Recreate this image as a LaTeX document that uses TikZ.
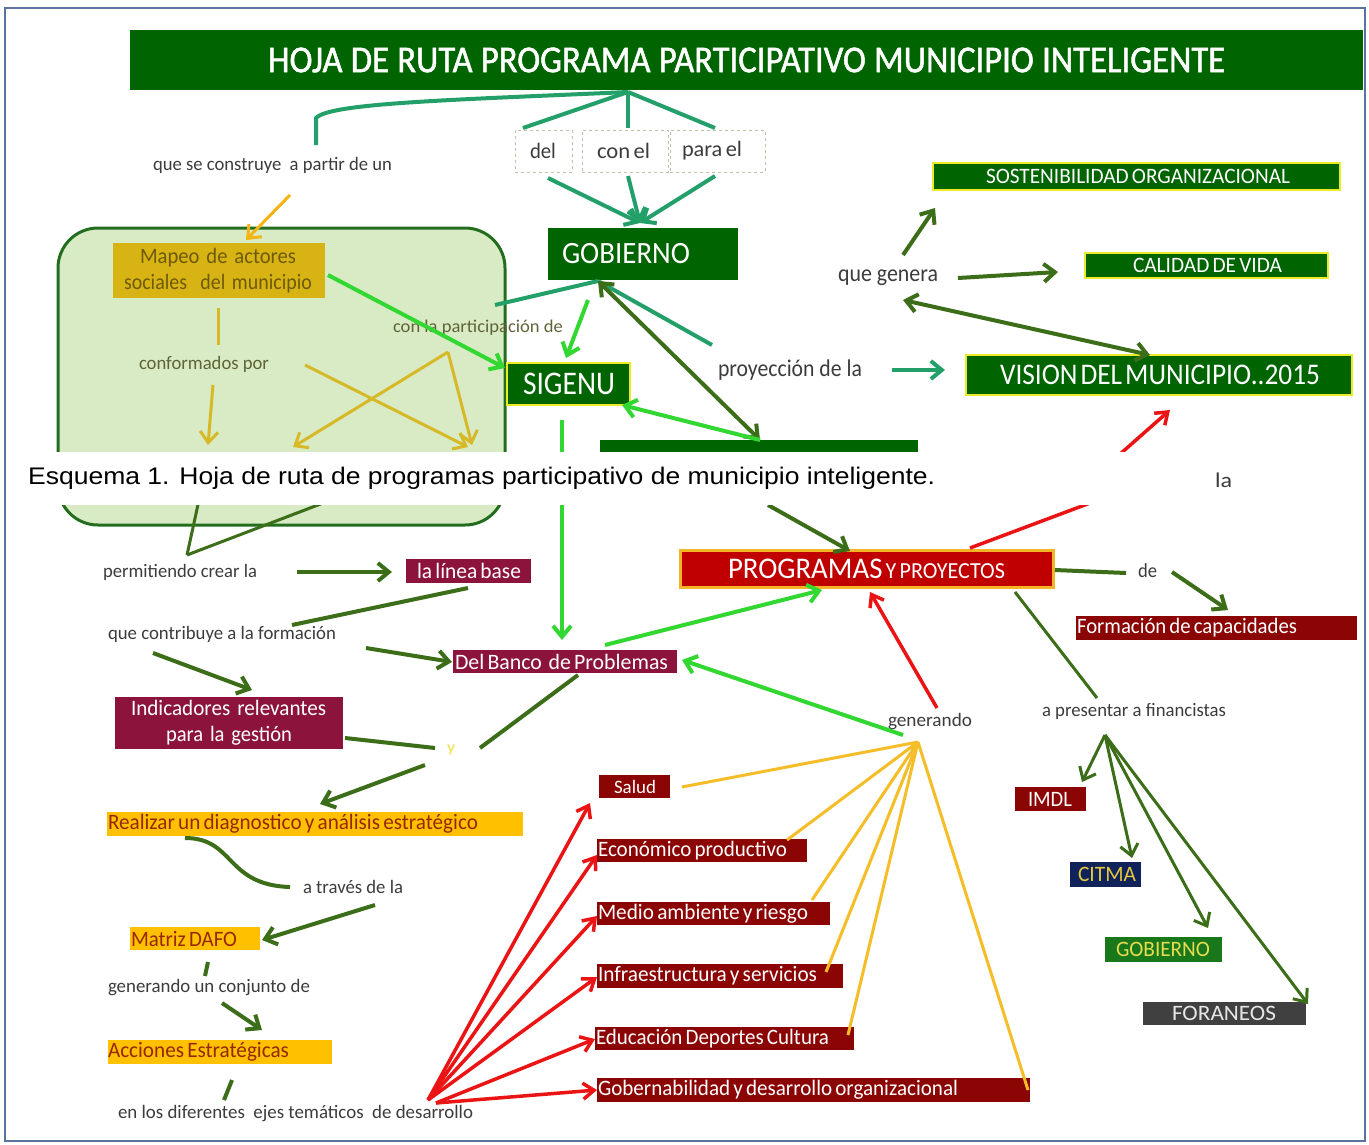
\documentclass[tikz,border=0pt]{standalone}
\usepackage{fontspec}
\setmainfont{Carlito}
\newfontfamily\arialf{Liberation Sans}
\newfontfamily\titlef[FakeBold=1.4]{Carlito}
\usetikzlibrary{arrows.meta,calc}
\newcommand{\fw}[3]{\resizebox{#1pt}{\height}{\fontsize{#2pt}{#2pt}\selectfont #3}}
\newcommand{\tsp}{\hspace{0.24em}}
\definecolor{dkgreen}{RGB}{0,100,0}
\definecolor{tealc}{RGB}{35,160,105}
\definecolor{lgreen}{RGB}{50,215,50}
\definecolor{olivec}{RGB}{60,110,25}
\definecolor{goldarr}{RGB}{245,180,20}
\definecolor{mapeofill}{RGB}{215,180,20}
\definecolor{mapeotext}{RGB}{110,90,10}
\definecolor{xline}{RGB}{215,185,40}
\definecolor{fanyel}{RGB}{245,190,40}
\definecolor{boxgold}{RGB}{255,192,0}
\definecolor{goldtext}{RGB}{150,40,0}
\definecolor{maroonc}{RGB}{140,20,60}
\definecolor{dkred}{RGB}{140,5,5}
\definecolor{progred}{RGB}{192,0,0}
\definecolor{orangebd}{RGB}{245,180,40}
\definecolor{redarr}{RGB}{235,20,20}
\definecolor{navyc}{RGB}{15,35,90}
\definecolor{citmatext}{RGB}{230,200,60}
\definecolor{gobtwo}{RGB}{25,120,25}
\definecolor{gobtwotext}{RGB}{230,220,80}
\definecolor{foran}{RGB}{64,64,64}
\definecolor{forantext}{RGB}{230,230,230}
\definecolor{grpfill}{RGB}{216,235,196}
\definecolor{grpbd}{RGB}{35,110,30}
\definecolor{txtgray}{RGB}{60,60,60}
\definecolor{olivegray}{RGB}{95,100,55}
\definecolor{dashcol}{RGB}{185,195,165}
\definecolor{framecol}{RGB}{90,115,160}
\definecolor{ybord}{RGB}{235,235,40}
\definecolor{ytext}{RGB}{240,225,60}
\begin{document}
\begin{tikzpicture}[x=1pt,y=-1pt,
  bx/.style={anchor=north west, inner xsep=0pt, inner ysep=0pt, outer sep=0pt, align=left},
  gbox/.style={bx, fill=dkgreen, text=white},
  ybd/.style={draw=ybord, line width=2pt},
  mbox/.style={bx, fill=maroonc, text=white},
  rbox/.style={bx, fill=dkred, text=white},
  obox/.style={bx, fill=boxgold, text=goldtext},
  dbox/.style={bx, draw=dashcol, dashed, line width=1pt, fill=white, text=txtgray},
  lbl/.style={anchor=west, inner sep=0pt, outer sep=0pt, text=txtgray},
  con/.style={line width=4pt},
  thin/.style={line width=3pt},
  rthin/.style={line width=3.5pt},
  tip/.style={-{Straight Barb[length=11pt,width=18pt]}},
  rtip/.style={-{Straight Barb[length=11pt,width=16pt]}},
  dtip/.style={{Straight Barb[length=11pt,width=18pt]}-{Straight Barb[length=11pt,width=18pt]}}
]
\useasboundingbox (0,0) rectangle (1369,1144);
\fill[white] (0,0) rectangle (1369,1144);
\draw[framecol, line width=2.5pt] (5,8) rectangle (1365,1141);

% group box
\node[bx, draw=grpbd, fill=grpfill, line width=3pt, rounded corners=40pt, minimum width=447pt, minimum height=297pt] (grp) at (58,228) {};

% title
\node[gbox, text width=1233pt, minimum height=60pt] (title) at (130,30) {\hspace*{138pt}\fw{957}{38}{\titlef HOJA\tsp DE\tsp RUTA\tsp PROGRAMA\tsp PARTICIPATIVO\tsp MUNICIPIO\tsp INTELIGENTE}};

% dashed word boxes
\node[dbox, text width=57pt, minimum height=42pt] (del) at (515,130) {\hspace*{15pt}\fw{26}{22}{del}};
\node[dbox, text width=86pt, minimum height=42pt] (conel) at (582,130) {\hspace*{15pt}\fw{53}{22}{con el}};
\node[dbox, text width=95pt, minimum height=42pt] (parael) at (670,130) {\hspace*{12pt}\fw{60}{22}{para el}};

% green boxes
\node[gbox, text width=190pt, minimum height=52pt] (gob) at (548,228) {\hspace*{14pt}\fw{128}{31}{GOBIERNO}};
\node[gbox, ybd, text width=123pt, minimum height=42pt] (sigenu) at (507,363) {\hspace*{16pt}\fw{92}{33}{SIGENU}};
\node[gbox, ybd, text width=407pt, minimum height=27pt] (sost) at (933,163) {\hspace*{53pt}\fw{304}{22}{SOSTENIBILIDAD ORGANIZACIONAL}};
\node[gbox, ybd, text width=243pt, minimum height=25pt] (calidad) at (1085,253) {\hspace*{48pt}\fw{149}{22}{CALIDAD DE VIDA}};
\node[gbox, ybd, text width=386pt, minimum height=40pt] (vision) at (966,355) {\hspace*{34pt}\fw{320}{30}{VISION DEL MUNICIPIO..2015}};
\node[gbox, text width=318pt, minimum height=25pt] (hidden) at (600,440) {};

% programas
\node[bx, fill=progred, draw=orangebd, line width=3pt, text=white, text width=373pt, minimum height=37pt] (prog) at (680,550) {\hspace*{48pt}\fw{277}{30}{PROGRAMAS{\fontsize{23pt}{23pt}\selectfont\ Y PROYECTOS}}};
\node[rbox, text width=281pt, minimum height=24pt] (formacion) at (1076,616) {\hspace*{1pt}\fw{220}{22}{Formación de capacidades}};
\node[rbox, text width=71pt, minimum height=24pt] (imdl) at (1015,787) {\hspace*{13pt}\fw{44}{22}{IMDL}};
\node[bx, fill=navyc, text=citmatext, text width=71pt, minimum height=25pt] (citma) at (1070,862) {\hspace*{8pt}\fw{58}{22}{CITMA}};
\node[bx, fill=gobtwo, text=gobtwotext, text width=117pt, minimum height=25pt] (gobt) at (1105,937) {\hspace*{11pt}\fw{94}{22}{GOBIERNO}};
\node[bx, fill=foran, text=forantext, text width=163pt, minimum height=23pt] (foraneos) at (1143,1002) {\hspace*{29pt}\fw{104}{22}{FORANEOS}};

% left column boxes
\node[bx, fill=mapeofill, text=mapeotext, text width=212pt, minimum height=55pt, font=\fontsize{22pt}{26pt}\selectfont] (mapeo) at (113,243) {\hspace*{27pt}\fw{156}{22}{Mapeo de actores}\\\hspace*{11pt}\fw{188}{22}{sociales~ del municipio}};
\node[mbox, text width=125pt, minimum height=24pt] (linea) at (406,559) {\hspace*{11pt}\fw{104}{22}{la línea base}};
\node[mbox, text width=224pt, minimum height=23pt] (banco) at (453,650) {\hspace*{2pt}\fw{213}{22}{Del Banco~ de Problemas}};
\node[mbox, text width=228pt, minimum height=52pt, font=\fontsize{22pt}{26pt}\selectfont] (indic) at (115,697) {\hspace*{16pt}\fw{195}{22}{Indicadores relevantes}\\\hspace*{51pt}\fw{126}{22}{para la gestión}};
\node[obox, text width=416pt, minimum height=24pt] (realizar) at (107,812) {\hspace*{1pt}\fw{370}{22}{Realizar un diagnostico y análisis estratégico}};
\node[obox, text width=130pt, minimum height=23pt] (matriz) at (130,927) {\hspace*{1pt}\fw{106}{22}{Matriz DAFO}};
\node[obox, text width=224pt, minimum height=24pt] (acciones) at (108,1040) {\fw{181}{22}{Acciones Estratégicas}};

% theme boxes
\node[rbox, text width=71pt, minimum height=23pt] (salud) at (599,775) {\hspace*{15pt}\fw{42}{19}{Salud}};
\node[rbox, text width=210pt, minimum height=23pt] (econ) at (597,839) {\hspace*{1pt}\fw{189}{22}{Económico productivo}};
\node[rbox, text width=233pt, minimum height=23pt] (medio) at (597,902) {\hspace*{1pt}\fw{210}{22}{Medio ambiente y riesgo}};
\node[rbox, text width=246pt, minimum height=24pt] (infra) at (597,964) {\hspace*{1pt}\fw{219}{22}{Infraestructura y servicios}};
\node[rbox, text width=259pt, minimum height=23pt] (educ) at (595,1027) {\hspace*{1pt}\fw{233}{22}{Educación Deportes Cultura}};
\node[rbox, text width=433pt, minimum height=24pt] (gober) at (597,1078) {\hspace*{1pt}\fw{360}{22}{Gobernabilidad y desarrollo organizacional}};

% labels
\node[lbl] (qsc) at (153,165) {\fw{239}{19}{que se construye~ a partir de un}};
\node[lbl, text=olivegray] (conf) at (139,364) {\fw{130}{19}{conformados por}};
\node[lbl, text=olivegray] (conpart) at (393,328) {\fw{170}{18}{con la participación de}};
\node[lbl] (proy) at (718,370) {\fw{144}{24}{proyección de la}};
\node[lbl] (qgen) at (838,278) {\fw{100}{24}{que genera}};
\node[lbl] (la) at (1215,480) {\fw{17}{21}{la}};
\node[lbl] (de) at (1138,571) {\fw{19}{20}{de}};
\node[lbl] (apres) at (1042,711) {\fw{184}{19}{a presentar a financistas}};
\node[lbl] (gener) at (888,722) {\fw{84}{19}{generando}};
\node[lbl] (perm) at (103,572) {\fw{154}{19}{permitiendo crear la}};
\node[lbl] (qcont) at (108,634) {\fw{228}{19}{que contribuye a la formación}};
\node[lbl, text=ytext] (yy) at (447,750) {\fw{8}{16}{y}};
\node[lbl] (atrav) at (303,887) {\fw{100}{19}{a través de la}};
\node[lbl] (genconj) at (108,988) {\fw{202}{19}{generando un conjunto de}};
\node[lbl] (enlos) at (118,1114) {\fw{355}{19}{en los diferentes~ ejes temáticos~ de desarrollo}};

% coordinates
\coordinate (apex) at ($(title.south west)+(498,2)$);
\coordinate (qend) at ($(qsc.west)+(163,-20)$);
\coordinate (gobin) at ($(gob.north west)+(92,-5)$);
\coordinate (gobout) at ($(gob.south west)+(50,1)$);
\coordinate (hidtop) at ($(hidden.north west)+(160,0)$);
\coordinate (genfan) at ($(gener.west)+(30,20)$);
\coordinate (redfan) at ($(enlos.west)+(310,-14)$);
\coordinate (finfan) at ($(apres.west)+(63,24)$);
\coordinate (xapex) at ($(grp.north west)+(390,124)$);
\coordinate (permapex) at ($(perm.west)+(84,-17)$);

% title connectors
\draw[tealc, con] (apex) .. controls (450,100) and (330,103) .. (316,118) -- (qend);
\draw[tealc, con] (apex) -- ($(del.north west)+(8,-2)$);
\draw[tealc, con] (apex) -- ($(conel.north west)+(46,-2)$);
\draw[tealc, con] (apex) -- ($(parael.north west)+(45,-2)$);
\draw[tealc, con, tip] ($(del.south west)+(33,6)$) -- (gobin);
\draw[tealc, con, tip] ($(conel.south west)+(46,4)$) -- (gobin);
\draw[tealc, con, tip] ($(parael.south west)+(45,4)$) -- (gobin);

% gold arrow to mapeo
\draw[goldarr, thin, tip] ($(qsc.west)+(137,30)$) -- ($(mapeo.north west)+(133,-3)$);

% inside group
\draw[xline, thin] ($(mapeo.north west)+(105,65)$) -- ($(conf.west)+(79,-19)$);
\draw[xline, thin, tip] ($(conf.west)+(74,21)$) -- ($(grp.north west)+(150,217)$);
\draw[xline, thin, tip] ($(conf.west)+(166,1)$) -- ($(grp.north west)+(410,219)$);
\draw[xline, thin, tip] (xapex) -- ($(grp.north west)+(235,219)$);
\draw[xline, thin, tip] (xapex) -- ($(grp.north west)+(414,217)$);

% gobierno connectors
\draw[tealc, con] (gobout) -- ($(conpart.west)+(102,-23)$);
\draw[tealc, con] (gobout) -- ($(proy.west)+(-6,-25)$);
\draw[lgreen, con, tip] ($(gob.north west)+(40,72)$) -- ($(sigenu.north west)+(59,-5)$);
\draw[olivec, con, dtip] (gobout) -- (hidtop);
\draw[lgreen, con, tip] ($(mapeo.north west)+(215,32)$) -- ($(sigenu.north west)+(-2,5)$);
\draw[lgreen, con, tip] ($(sigenu.north west)+(55,57)$) -- ($(banco.north west)+(109,-10)$);
\draw[lgreen, con, tip] (hidtop) -- ($(sigenu.north west)+(115,42)$);
\draw[olivec, con, tip] ($(hidden.north west)+(168,65)$) -- ($(prog.north west)+(170,1)$);
\draw[redarr, rthin] ($(prog.north west)+(290,-2)$) -- ($(la.west)+(-85,8)$);
\draw[redarr, rthin, rtip] ($(la.west)+(-113,-10)$) -- ($(vision.north west)+(204,55)$);

% que genera / proyeccion
\draw[olivec, con, tip] ($(qgen.west)+(65,-23)$) -- ($(sost.north west)+(2,45)$);
\draw[olivec, con, tip] ($(qgen.west)+(120,0)$) -- ($(calidad.north west)+(-27,19)$);
\draw[olivec, con, dtip] ($(qgen.west)+(65,22)$) -- ($(vision.north west)+(184,0)$);
\draw[tealc, con, tip] ($(proy.west)+(174,0)$) -- ($(vision.north west)+(-21,15)$);

% programas right side
\draw[olivec, con] ($(prog.north west)+(375,20)$) -- ($(de.west)+(-12,2)$);
\draw[olivec, con, tip] ($(de.west)+(34,1)$) -- ($(formacion.north west)+(152,-6)$);
\draw[olivec, thin] ($(prog.north west)+(335,42)$) -- ($(apres.west)+(55,-13)$);
\draw[olivec, thin, tip] (finfan) -- ($(imdl.north west)+(67,-5)$);
\draw[olivec, thin, tip] (finfan) -- ($(citma.north west)+(62,-4)$);
\draw[olivec, thin, tip] (finfan) -- ($(gobt.north west)+(103,-9)$);
\draw[olivec, thin, tip] (finfan) -- ($(foraneos.north west)+(165,2)$);

% banco / generando
\draw[lgreen, con, tip] ($(banco.north west)+(152,-5)$) -- ($(prog.north west)+(142,40)$);
\draw[redarr, rthin, rtip] ($(gener.west)+(49,-14)$) -- ($(prog.north west)+(190,42)$);
\draw[lgreen, con, tip] ($(gener.west)+(15,13)$) -- ($(banco.north west)+(229,10)$);
\draw[fanyel, thin] (genfan) -- ($(salud.north west)+(83,12)$);
\draw[fanyel, thin] (genfan) -- ($(econ.north west)+(190,1)$);
\draw[fanyel, thin] (genfan) -- ($(medio.north west)+(215,-2)$);
\draw[fanyel, thin] (genfan) -- ($(infra.north west)+(229,8)$);
\draw[fanyel, thin] (genfan) -- ($(educ.north west)+(253,8)$);
\draw[fanyel, thin] (genfan) -- ($(gober.north west)+(431,12)$);

% left column flow
\draw[olivec, thin] (permapex) -- ($(grp.north west)+(141,272)$);
\draw[olivec, thin] (permapex) -- ($(grp.north west)+(273,272)$);
\draw[olivec, con, tip] ($(perm.west)+(194,0)$) -- ($(linea.north west)+(-14,13)$);
\draw[olivec, con] ($(linea.north west)+(62,29)$) -- ($(qcont.west)+(184,-9)$);
\draw[olivec, con, tip] ($(qcont.west)+(258,14)$) -- ($(banco.north west)+(-1,12)$);
\draw[olivec, con, tip] ($(qcont.west)+(45,19)$) -- ($(indic.north west)+(137,-7)$);
\draw[olivec, con] ($(indic.north west)+(230,41)$) -- ($(yy.west)+(-12,-2)$);
\draw[olivec, con] ($(yy.west)+(33,-2)$) -- ($(banco.north west)+(125,25)$);
\draw[olivec, con, tip] ($(yy.west)+(-22,15)$) -- ($(realizar.north west)+(213,-8)$);
\draw[olivec, con] ($(realizar.north west)+(78,26)$) .. controls (235,838) and (225,885) .. ($(atrav.west)+(-13,0)$);
\draw[olivec, con, tip] ($(atrav.west)+(72,18)$) -- ($(matriz.north west)+(132,13)$);
\draw[olivec, con] ($(matriz.north west)+(78,35)$) -- ($(genconj.west)+(97,-12)$);
\draw[olivec, con, tip] ($(genconj.west)+(114,15)$) -- ($(acciones.north west)+(154,-10)$);
\draw[olivec, con] ($(acciones.north west)+(124,40)$) -- ($(enlos.west)+(106,-14)$);

% red fan
\draw[redarr, rthin, rtip] (redfan) -- ($(salud.north west)+(-9,28)$);
\draw[redarr, rthin, rtip] (redfan) -- ($(econ.north west)+(0,16)$);
\draw[redarr, rthin, rtip] (redfan) -- ($(medio.north west)+(0,14)$);
\draw[redarr, rthin, rtip] (redfan) -- ($(infra.north west)+(0,13)$);
\draw[redarr, rthin, rtip] ($(redfan)+(8,3)$) -- ($(educ.north west)+(0,12)$);
\draw[redarr, rthin, rtip] ($(redfan)+(8,3)$) -- ($(gober.north west)+(0,12)$);

% caption band
\fill[white] (8,452) rectangle (1200,505);
\node[anchor=west, inner sep=0pt, text=black] (caption) at (28,478) {\arialf\fw{907}{24}{Esquema 1. Hoja de ruta de programas participativo de municipio inteligente.}};
\end{tikzpicture}
\end{document}
